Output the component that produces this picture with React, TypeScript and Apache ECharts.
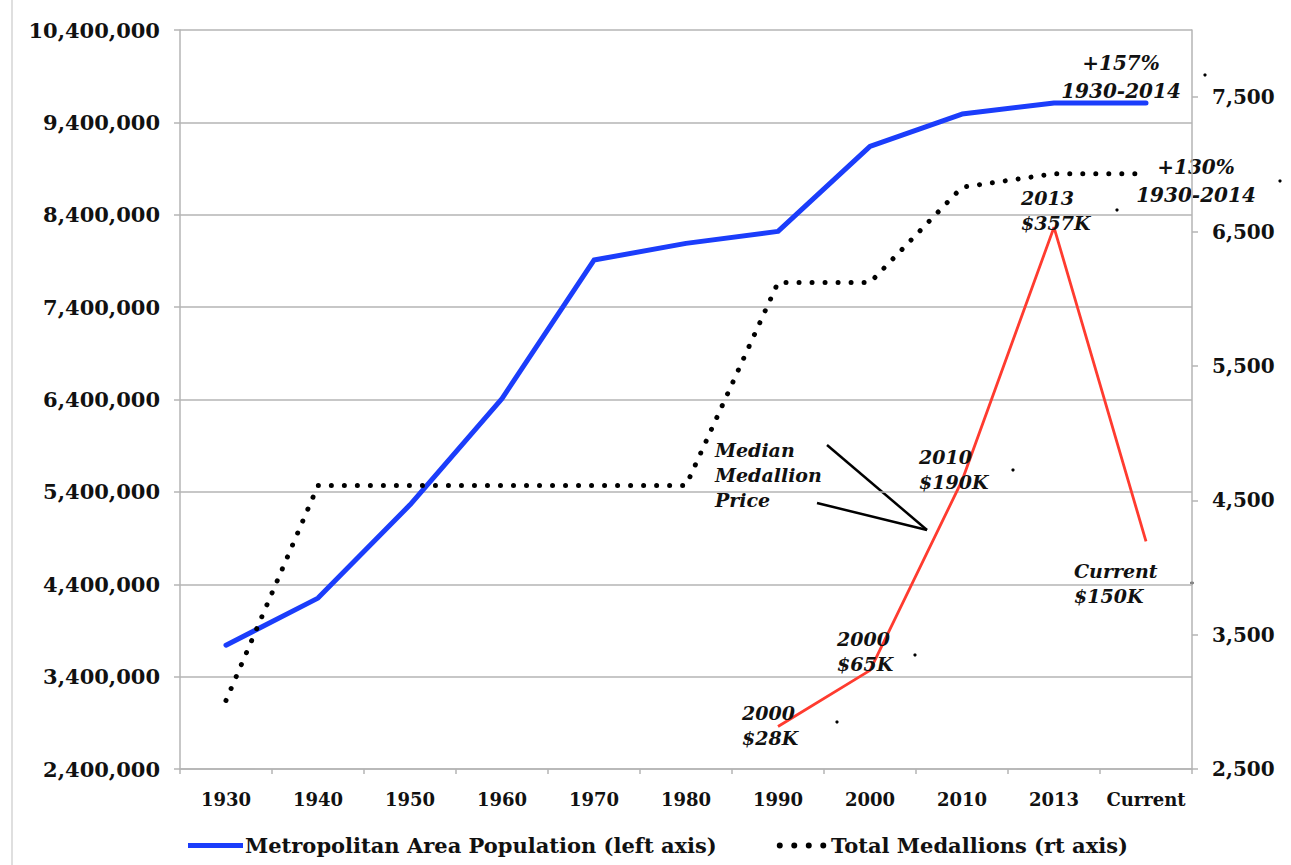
import React, { useEffect, useRef } from 'react';
import * as echarts from 'echarts';

// ---------- data ----------
const categories = ['1930', '1940', '1950', '1960', '1970', '1980', '1990', '2000', '2010', '2013', 'Current'];
const population = [3740000, 4250000, 5260000, 6410000, 7910000, 8090000, 8220000, 9140000, 9490000, 9610000, 9610000];
const medallions = [3010, 4610, 4610, 4610, 4610, 4610, 6120, 6120, 6830, 6930, 6930];
const priceCategories = ['1990', '2000', '2010', '2013', 'Current'];
const priceK = [28, 65, 190, 357, 150];
const priceLabels = ['2000\n$28K', '2000\n$65K', '2010\n$190K', '2013\n$357K', 'Current\n$150K'];
const leftTicks = [2400000, 3400000, 4400000, 5400000, 6400000, 7400000, 8400000, 9400000, 10400000];
const rightTicks = [2500, 3500, 4500, 5500, 6500, 7500];
const popName = 'Metropolitan Area Population (left axis)';
const medName = 'Total Medallions (rt axis)';

// ---------- styles ----------
const FONT = '"DejaVu Serif", Georgia, serif';
const INK = '#111111';
const GRID = '#b4b4b4';
const priceLabelOffsets = [[-36, -1], [-33, -19], [-43, -11], [-33, -17], [-72, 42]];
const lineIcon = 'path://M0,0 H55 V5 H0 Z';
const dotsIcon =
  'path://M3,0 A3,3 0 1,1 3,6 A3,3 0 1,1 3,0 Z M17.5,0 A3,3 0 1,1 17.5,6 A3,3 0 1,1 17.5,0 Z M32,0 A3,3 0 1,1 32,6 A3,3 0 1,1 32,0 Z M46.5,0 A3,3 0 1,1 46.5,6 A3,3 0 1,1 46.5,0 Z';

const fmt = (v: number) => Math.round(v).toLocaleString('en-US');

export default function App() {
  const ref = useRef<HTMLDivElement>(null);
  useEffect(() => {
    if (!ref.current) return;
    const chart = echarts.init(ref.current, undefined, { renderer: 'svg' });

    const priceData = categories.map((c) => {
      const i = priceCategories.indexOf(c);
      if (i < 0) return '-';
      return {
        value: priceK[i],
        label: {
          show: true,
          formatter: priceLabels[i],
          position: 'inside',
          align: 'left',
          verticalAlign: 'middle',
          offset: priceLabelOffsets[i],
        },
      };
    });

    const annText = (text: string, x: number, y: number, align: string, size: number, lh: number) => ({
      type: 'text',
      x,
      y,
      style: {
        text,
        fill: INK,
        font: `italic bold ${size}px ${FONT}`,
        align,
        verticalAlign: 'top',
        lineHeight: lh,
      },
    });

    const strayDots = [[1205, 75], [1280, 181], [1117, 210], [1013, 470], [915, 655], [837, 722], [1192, 583]];

    chart.setOption({
      animation: false,
      backgroundColor: '#ffffff',
      grid: { left: 180, right: 99, top: 30, bottom: 96, containLabel: false },
      legend: {
        left: 183,
        top: 830,
        itemWidth: 55,
        itemHeight: 6,
        itemGap: 60,
        data: [
          { name: popName, icon: lineIcon },
          { name: medName, icon: dotsIcon },
        ],
        textStyle: { fontFamily: FONT, fontWeight: 'bold', fontSize: 21, color: INK, padding: [0, 0, 0, -3] },
      },
      xAxis: {
        type: 'category',
        data: categories,
        boundaryGap: true,
        axisLine: { lineStyle: { color: GRID, width: 1.5 } },
        axisTick: { show: true, length: 5, lineStyle: { color: GRID, width: 1.5 } },
        axisLabel: { interval: 0, fontFamily: FONT, fontWeight: 'bold', fontSize: 18, color: INK, margin: 21 },
      },
      yAxis: [
        {
          type: 'value',
          min: 2400000,
          max: 10400000,
          position: 'left',
          axisLine: { show: true, lineStyle: { color: GRID, width: 1.5 } },
          axisTick: { show: true, length: 6, customValues: leftTicks, lineStyle: { color: GRID, width: 1.5 } },
          splitLine: { show: true, lineStyle: { color: GRID, width: 1.5 } },
          axisLabel: {
            customValues: leftTicks,
            formatter: (v: number) => fmt(v),
            fontFamily: FONT,
            fontWeight: 'bold',
            fontSize: 21,
            color: INK,
            margin: 20,
          },
        },
        {
          type: 'value',
          min: 2500,
          max: 8000,
          position: 'right',
          axisLine: { show: true, lineStyle: { color: GRID, width: 1.5 } },
          axisTick: { show: true, length: 6, customValues: rightTicks, lineStyle: { color: GRID, width: 1.5 } },
          splitLine: { show: false },
          axisLabel: {
            customValues: rightTicks,
            formatter: (v: number) => fmt(v),
            fontFamily: FONT,
            fontWeight: 'bold',
            fontSize: 20,
            color: INK,
            margin: 20,
          },
        },
        {
          type: 'value',
          min: 0,
          max: 487,
          show: false,
          splitLine: { show: false },
        },
      ],
      series: [
        {
          name: popName,
          type: 'line',
          yAxisIndex: 0,
          data: population,
          showSymbol: false,
          symbol: 'none',
          color: '#1b3dfb',
          lineStyle: { color: '#1b3dfb', width: 5, cap: 'round', join: 'round' },
          z: 3,
        },
        {
          name: medName,
          type: 'line',
          yAxisIndex: 1,
          data: medallions,
          showSymbol: false,
          symbol: 'none',
          color: '#000000',
          lineStyle: { color: '#000000', width: 5, type: [0.01, 13], cap: 'round', join: 'round' },
          z: 4,
        },
        {
          name: 'Median Medallion Price',
          type: 'line',
          yAxisIndex: 2,
          data: priceData,
          connectNulls: false,
          showSymbol: true,
          symbol: 'circle',
          symbolSize: 1,
          itemStyle: { color: 'rgba(0,0,0,0)' },
          lineStyle: { color: '#ff3b2f', width: 2.8 },
          label: {
            show: true,
            color: INK,
            fontFamily: FONT,
            fontStyle: 'italic',
            fontWeight: 'bold',
            fontSize: 19,
            lineHeight: 25,
          },
          z: 5,
        },
      ],
      graphic: [
        { type: 'line', shape: { x1: 12, y1: 0, x2: 12, y2: 865 }, style: { stroke: '#d4d4d4', lineWidth: 1.5 } },
        annText('+157%\n1930-2014', 1121, 49, 'center', 20, 28),
        annText('+130%\n1930-2014', 1196, 153, 'center', 20, 28),
        annText('Median\nMedallion\nPrice', 715, 437, 'left', 19, 25),
        { type: 'line', shape: { x1: 827, y1: 445, x2: 927, y2: 530 }, style: { stroke: '#000', lineWidth: 2.5 } },
        { type: 'line', shape: { x1: 817, y1: 503, x2: 927, y2: 530 }, style: { stroke: '#000', lineWidth: 2.5 } },
        ...strayDots.map(([x, y]) => ({ type: 'circle', shape: { cx: x, cy: y, r: 1.6 }, style: { fill: '#000' } })),
      ],
    });
    return () => chart.dispose();
  }, []);
  return (
    <div
      ref={ref}
      style={{ position: 'fixed', left: 0, top: 0, width: 1291, height: 865, background: '#fff' }}
    />
  );
}
